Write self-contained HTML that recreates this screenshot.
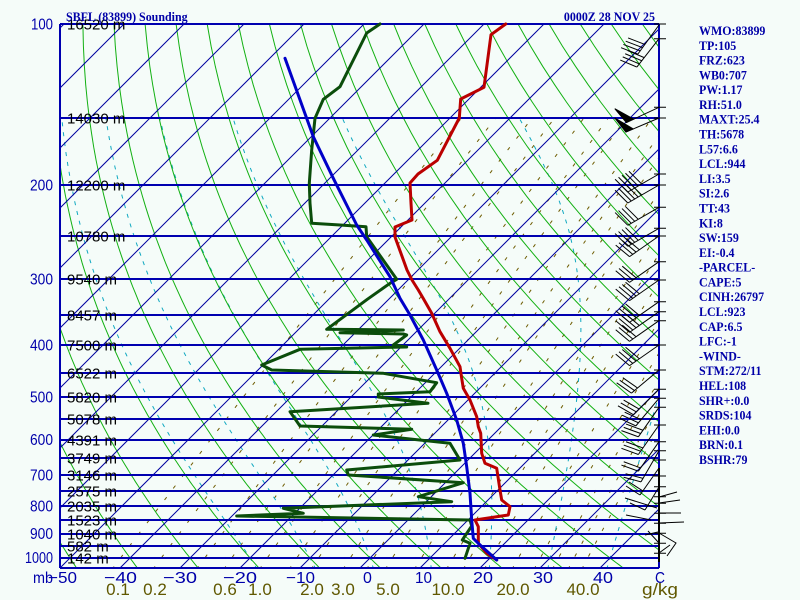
<!DOCTYPE html>
<html>
<head>
<meta charset="utf-8">
<style>
html,body{margin:0;padding:0;background:#f5fcf9;width:800px;height:600px;overflow:hidden}
svg{display:block}
.pl{font-family:"Liberation Sans",sans-serif;font-size:16px;fill:#0000aa}
.hl{font-family:"Liberation Sans",sans-serif;font-size:15px;fill:#000}
.ml{font-family:"Liberation Sans",sans-serif;font-size:17px;fill:#605800}
.bt{font-family:"Liberation Serif",serif;font-size:13px;font-weight:bold;fill:#0000a8}
</style>
</head>
<body>
<svg id="s" width="800" height="600" viewBox="0 0 800 600" xmlns="http://www.w3.org/2000/svg">
<defs><clipPath id="c"><rect x="60" y="24" width="599" height="544"/></clipPath></defs>
<rect width="800" height="600" fill="#f5fcf9"/>
<g clip-path="url(#c)" fill="none">
 <g id="mix" stroke="#6e5c00" stroke-width="1" stroke-dasharray="3.5 11"></g>
 <g id="moist" stroke="#10a8c0" stroke-width="1" stroke-dasharray="4 6"></g>
 <g id="dry" stroke="#12b012" stroke-width="1"></g>
 <path stroke="#0000a0" stroke-width="1" d="M-480 568L64 24M-420 568L124 24M-360 568L184 24M-300 568L244 24M-240 568L304 24M-180 568L364 24M-120 568L424 24M-60 568L484 24M0 568L544 24M60 568L604 24M120 568L664 24M180 568L724 24M240 568L784 24M300 568L844 24M360 568L904 24M420 568L964 24M480 568L1024 24M540 568L1084 24M600 568L1144 24"/>
</g>
<path fill="none" stroke="#0000b0" stroke-width="2" d="M60 24H659M60 118H659M60 185H659M60 236H659M60 279H659M60 315H659M60 345H659M60 373H659M60 397H659M60 419H659M60 440H659M60 458H659M60 475H659M60 491H659M60 506H659M60 520H659M60 534H659M60 546H659M60 558H659M60 568H659M60 24V568M659 24V568"/>

<g fill="none" stroke-linejoin="round" stroke-linecap="round" stroke-width="3">
<polyline stroke="#bb0000" points="505.7,24 491,34.7 484,87.3 460.7,99 459.3,118 437.3,160.3 418,174 410,183 411,203 412,220 395,227 395,237 407,270 412,280 418.3,290 423,298 431.7,313.3 440,331.7 450,348.3 460,366.7 461.7,378.3 463.3,388.3 470,400 476.7,416.7 478.3,426.7 480.7,433.3 481.7,453.3 485,463.3 496.7,468.3 500,490 501.7,500 510,506.7 508.3,515 475,520 478.3,526.7 478.3,543.3 486.7,553.3 496.7,560"/>
<polyline stroke="#0b4d0b" points="380,24 366.7,33 358.3,50 340,86.7 323.3,99.3 315,118.3 311.7,150 309.3,183.3 310,203.3 311.7,223.3 340,225 366,226.7 366.7,236.7 396.7,279.3 390,283.3 367.3,299.3 326.7,329.3 403.3,330 340,332.7 403.3,334 406.7,335 393.3,345 406.7,347 300,349.3 261.7,365 271.7,370 383.3,373.3 436.7,382.7 430,391.7 378.3,394 378.3,397 428,403.3 290,411.7 300,426 411.7,429.3 373.3,435 450,443.3 460,460 346.7,470 348.3,475 463.3,482.7 418.3,496.7 451.7,501.7 283.3,508.3 303.3,513.3 236.7,516 470,520 471.7,526 462.3,540 470,543.3 465,558.3"/>
<polyline stroke="#0000c8" points="285,58.3 313.3,136.7 333.3,178.3 356.7,225 366.7,240 390,276.7 400,298.3 410,315 423.3,340 436.7,370 446.7,393.3 456.7,420 463.3,443.3 466.7,466.7 470,493.3 471.7,520 473.3,538.3 478.3,543.3 496.7,560"/>
</g>

<g id="barbs" stroke="#000" stroke-width="1" fill="none">
<path stroke-width="2" d="M659 468V562"/>
<path d="M654 24H666M654 38.7H666M654 107.3H666M654 118H666M654 174H666M654 185H666M654 207.3H666M654 228.3H666M654 236H666M654 261.7H666M654 280H666M654 301.7H666M654 311.7H666M654 320.7H666M654 345H666M654 370H666M654 389.3H666M654 398.3H666M654 407.3H666M654 425H666M654 441.7H666M654 450.7H666M654 460H666M654 476H666M654 486.7H666M654 496.7H666M654 503.3H666M654 513.3H666M654 523.3H666M654 533.3H666M654 543.3H666M654 553.3H666"/>
<path d="M659 468L640 495M640 495L626 486M643 491L629 482M659 487L645 510M645 510L630 503M659 497L677 492M659 503L680 500M659 513L681 513M659 523L684 522M659 533L676 543L667 556M659 543L648 531M659 553L670 545M625 498L657 508M626 515L651 520M645 535L658 532"/>
</g>

<!-- pressure labels -->
<text class="pl" x="53" y="29.5" text-anchor="end" textLength="22" lengthAdjust="spacingAndGlyphs">100</text>
<text class="pl" x="53" y="190.5" text-anchor="end" textLength="23" lengthAdjust="spacingAndGlyphs">200</text>
<text class="pl" x="53" y="284.5" text-anchor="end" textLength="23" lengthAdjust="spacingAndGlyphs">300</text>
<text class="pl" x="53" y="350.5" text-anchor="end" textLength="23" lengthAdjust="spacingAndGlyphs">400</text>
<text class="pl" x="53" y="402.5" text-anchor="end" textLength="23" lengthAdjust="spacingAndGlyphs">500</text>
<text class="pl" x="53" y="445" text-anchor="end" textLength="23" lengthAdjust="spacingAndGlyphs">600</text>
<text class="pl" x="53" y="480.5" text-anchor="end" textLength="23" lengthAdjust="spacingAndGlyphs">700</text>
<text class="pl" x="53" y="511.5" text-anchor="end" textLength="23" lengthAdjust="spacingAndGlyphs">800</text>
<text class="pl" x="53" y="539" text-anchor="end" textLength="23" lengthAdjust="spacingAndGlyphs">900</text>
<text class="pl" x="53" y="563" text-anchor="end" textLength="28" lengthAdjust="spacingAndGlyphs">1000</text>

<!-- height labels -->
<text class="hl" x="67" y="29.5">16520 m</text>
<text class="hl" x="67" y="123.5">14030 m</text>
<text class="hl" x="67" y="190.5">12200 m</text>
<text class="hl" x="67" y="241.5">10780 m</text>
<text class="hl" x="67" y="284.5">9540 m</text>
<text class="hl" x="67" y="320.5">8457 m</text>
<text class="hl" x="67" y="350.5">7500 m</text>
<text class="hl" x="67" y="378.5">6522 m</text>
<text class="hl" x="67" y="402.5">5820 m</text>
<text class="hl" x="67" y="424.5">5078 m</text>
<text class="hl" x="67" y="445.5">4391 m</text>
<text class="hl" x="67" y="463.5">3749 m</text>
<text class="hl" x="67" y="480.5">3146 m</text>
<text class="hl" x="67" y="496.5">2575 m</text>
<text class="hl" x="67" y="511.5">2035 m</text>
<text class="hl" x="67" y="525.5">1523 m</text>
<text class="hl" x="67" y="539.5">1040 m</text>
<text class="hl" x="67" y="551.5">582 m</text>
<text class="hl" x="67" y="563.5">142 m</text>

<!-- temperature axis labels -->
<text class="pl" x="33" y="583" textLength="20" lengthAdjust="spacingAndGlyphs">mb</text>
<text class="pl" x="48" y="583" textLength="29" lengthAdjust="spacingAndGlyphs">−50</text>
<text class="pl" x="104" y="583" textLength="33" lengthAdjust="spacingAndGlyphs">−40</text>
<text class="pl" x="163" y="583" textLength="34" lengthAdjust="spacingAndGlyphs">−30</text>
<text class="pl" x="223" y="583" textLength="34" lengthAdjust="spacingAndGlyphs">−20</text>
<text class="pl" x="286" y="583" textLength="29" lengthAdjust="spacingAndGlyphs">−10</text>
<text class="pl" x="363" y="583">0</text>
<text class="pl" x="415" y="583" textLength="17" lengthAdjust="spacingAndGlyphs">10</text>
<text class="pl" x="473" y="583" textLength="20" lengthAdjust="spacingAndGlyphs">20</text>
<text class="pl" x="533" y="583" textLength="20" lengthAdjust="spacingAndGlyphs">30</text>
<text class="pl" x="593" y="583" textLength="20" lengthAdjust="spacingAndGlyphs">40</text>
<text class="pl" x="655" y="583" textLength="10" lengthAdjust="spacingAndGlyphs">C</text>

<!-- mixing ratio labels -->
<text class="ml" x="118" y="595" text-anchor="middle">0.1</text>
<text class="ml" x="155" y="595" text-anchor="middle">0.2</text>
<text class="ml" x="225" y="595" text-anchor="middle">0.6</text>
<text class="ml" x="260" y="595" text-anchor="middle">1.0</text>
<text class="ml" x="312" y="595" text-anchor="middle">2.0</text>
<text class="ml" x="343" y="595" text-anchor="middle">3.0</text>
<text class="ml" x="388" y="595" text-anchor="middle">5.0</text>
<text class="ml" x="448" y="595" text-anchor="middle">10.0</text>
<text class="ml" x="513" y="595" text-anchor="middle">20.0</text>
<text class="ml" x="583" y="595" text-anchor="middle">40.0</text>
<text class="ml" x="642" y="595" textLength="36" lengthAdjust="spacingAndGlyphs">g/kg</text>

<!-- title -->
<text class="bt" transform="translate(66 21) scale(0.92 1)">SBFL (83899) Sounding</text>
<text class="bt" transform="translate(655 21) scale(0.92 1)" text-anchor="end">0000Z 28 NOV 25</text>

<!-- right panel -->
<g class="bt" transform="translate(699 0) scale(0.92 1)">
<text x="0" y="35">WMO:83899</text>
<text x="0" y="49.8">TP:105</text>
<text x="0" y="64.6">FRZ:623</text>
<text x="0" y="79.4">WB0:707</text>
<text x="0" y="94.2">PW:1.17</text>
<text x="0" y="109">RH:51.0</text>
<text x="0" y="123.7">MAXT:25.4</text>
<text x="0" y="138.5">TH:5678</text>
<text x="0" y="153.3">L57:6.6</text>
<text x="0" y="168.1">LCL:944</text>
<text x="0" y="182.9">LI:3.5</text>
<text x="0" y="197.7">SI:2.6</text>
<text x="0" y="212.5">TT:43</text>
<text x="0" y="227.3">KI:8</text>
<text x="0" y="242.1">SW:159</text>
<text x="0" y="256.9">EI:-0.4</text>
<text x="0" y="271.6">-PARCEL-</text>
<text x="0" y="286.4">CAPE:5</text>
<text x="0" y="301.2">CINH:26797</text>
<text x="0" y="316">LCL:923</text>
<text x="0" y="330.8">CAP:6.5</text>
<text x="0" y="345.6">LFC:-1</text>
<text x="0" y="360.4">-WIND-</text>
<text x="0" y="375.2">STM:272/11</text>
<text x="0" y="390">HEL:108</text>
<text x="0" y="404.8">SHR+:0.0</text>
<text x="0" y="419.5">SRDS:104</text>
<text x="0" y="434.3">EHI:0.0</text>
<text x="0" y="449.1">BRN:0.1</text>
<text x="0" y="463.9">BSHR:79</text>
</g>
</svg>
<script>
(function(){
var NS="http://www.w3.org/2000/svg";
function Y(p){return 24+231.9*Math.log(p/100);}
function X(T,p){return 370+6*T+(558-Y(p));}
function path(g,pts){var d="";for(var i=0;i<pts.length;i++){d+=(i?"L":"M")+pts[i][0].toFixed(1)+" "+pts[i][1].toFixed(1);}var e=document.createElementNS(NS,"path");e.setAttribute("d",d);g.appendChild(e);}
var dry=document.getElementById("dry");
for(var th=-50;th<=170;th+=10){var pts=[];for(var p=1050;p>=100;p-=10){var T=(th+273.15)*Math.pow(p/1000,0.2857)-273.15;pts.push([X(T,p),Y(p)]);}path(dry,pts);}
function es(T){return 6.112*Math.exp(17.67*T/(T+243.5));}
function grad(Tk,p){var Tc=Tk-273.15;var e=es(Tc);var r=0.622*e/(p-e);var Rd=287.04,cp=1005.7,L=2.501e6;return ((Rd*Tk+L*r)/(cp+L*L*r*0.622/(Rd*Tk*Tk)))/p;}
var moist=document.getElementById("moist");
for(var t0=-20;t0<=40;t0+=10){
 var up=[],Tk=t0+273.15,p=1000,dp,k1,k2;up.push([X(t0,1000),Y(1000)]);
 while(p>150){dp=-5;k1=grad(Tk,p);k2=grad(Tk+k1*dp/2,p+dp/2);Tk+=k2*dp;p+=dp;up.push([X(Tk-273.15,p),Y(p)]);}
 var dn=[];Tk=t0+273.15;p=1000;
 while(p<1050){dp=5;k1=grad(Tk,p);k2=grad(Tk+k1*dp/2,p+dp/2);Tk+=k2*dp;p+=dp;dn.push([X(Tk-273.15,p),Y(p)]);}
 dn.reverse();path(moist,dn.concat(up));
}
var mix=document.getElementById("mix");
var ws=[0.1,0.2,0.4,0.6,1,1.5,2,3,4,5,7,10,12,15,20,25,30,35,40];
for(var i=0;i<ws.length;i++){var w=ws[i],pts=[];for(var p=1050;p>=150;p-=10){var e=w*p/(622+w),l=Math.log(e/6.112),Td=243.5*l/(17.67-l);pts.push([X(Td,p),Y(p)]);}path(mix,pts);}
var bg=document.getElementById("barbs");
function ln(x1,y1,x2,y2){var e=document.createElementNS(NS,"line");e.setAttribute("x1",x1);e.setAttribute("y1",y1);e.setAttribute("x2",x2);e.setAttribute("y2",y2);bg.appendChild(e);}
function barb(y,ang,nf,np){var a=ang*Math.PI/180,ux=Math.cos(a),uy=Math.sin(a),L=36;var ex=659+L*ux,ey=y+L*uy;ln(659,y,ex,ey);
 var f=(ang+75)*Math.PI/180,fx=Math.cos(f),fy=Math.sin(f),FL=18,pos=0;
 for(var i=0;i<np;i++){var x1=ex-pos*ux,y1=ey-pos*uy,x2=ex-(pos+8)*ux,y2=ey-(pos+8)*uy;var pg=document.createElementNS(NS,"polygon");pg.setAttribute("points",x1+","+y1+" "+(x1+FL*fx)+","+(y1+FL*fy)+" "+x2+","+y2);pg.setAttribute("fill","#000");bg.appendChild(pg);pos+=10;}
 for(var j=0;j<nf;j++){var sx=ex-pos*ux,sy=ey-pos*uy;ln(sx,sy,sx+FL*fx,sy+FL*fy);pos+=4;}}
var B=[[25,126,4,0],[38.7,128,4,0],[107.3,155,0,1],[118,157,0,1],[174,150,5,0],[185,150,5,0],[207.3,150,4,0],[228.3,150,4,0],[236,145,4,0],[261.7,145,3,0],[280,145,4,0],[301.7,145,4,0],[311.7,145,4,0],[320.7,145,3,0],[345,145,4,0],[370,140,3,0],[389.3,135,3,0],[398.3,130,3,0],[407.3,125,3,0],[425,125,3,0],[441.7,125,2,0],[450.7,120,2,0]];
for(var k=0;k<B.length;k++)barb(B[k][0],B[k][1],B[k][2],B[k][3]);
})();
</script>
</body>
</html>
